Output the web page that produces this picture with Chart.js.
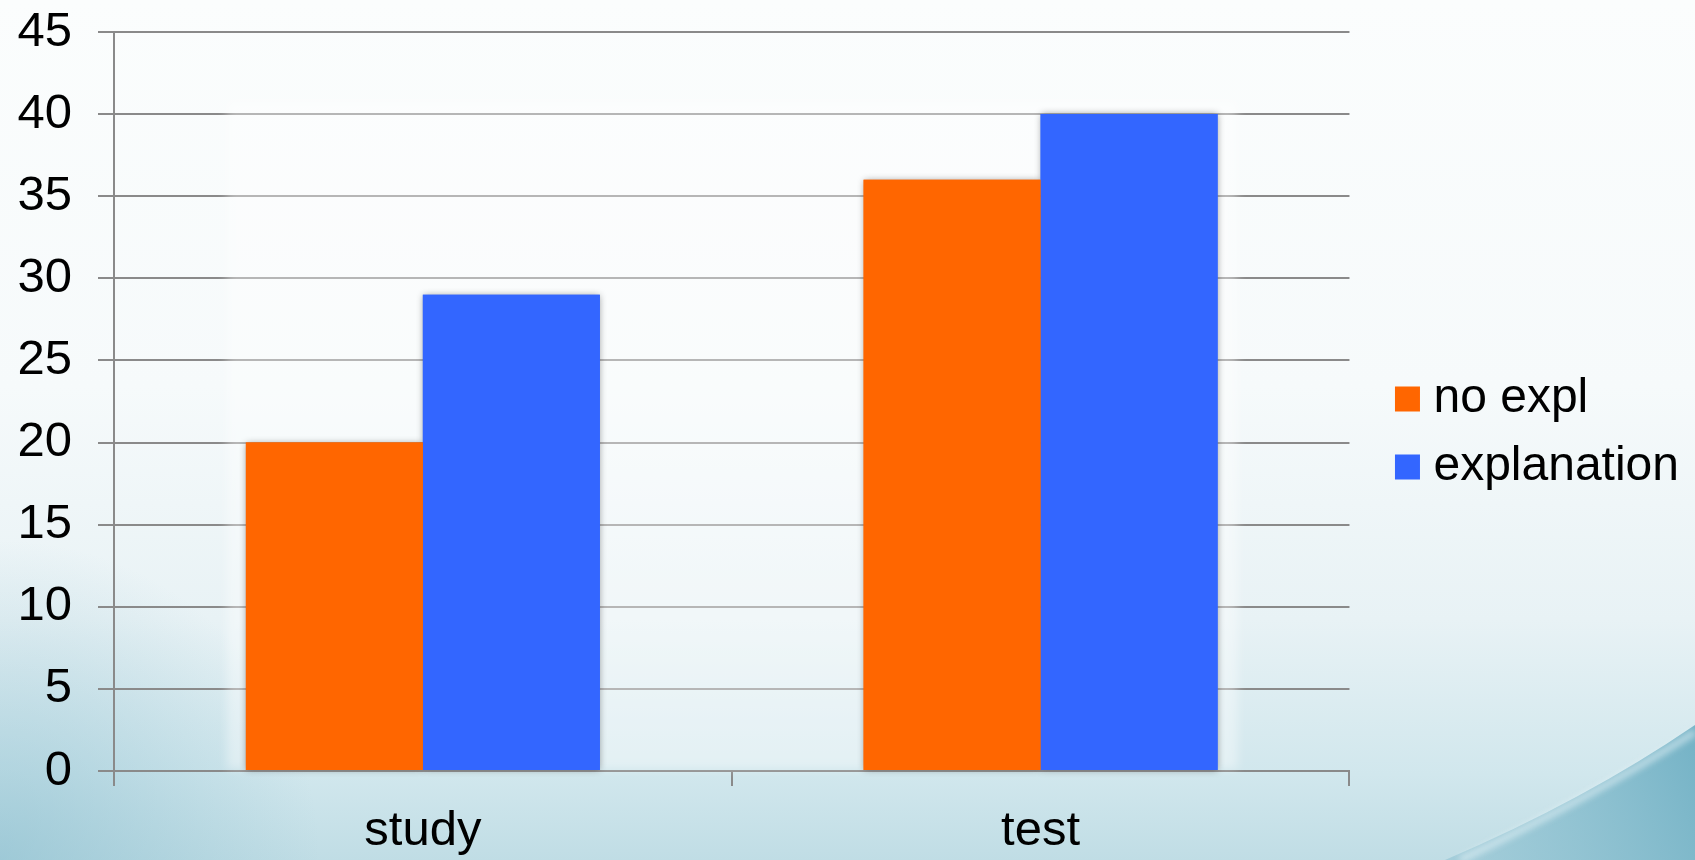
<!DOCTYPE html>
<html>
<head>
<meta charset="utf-8">
<title>study vs test</title>
<script src="https://cdn.jsdelivr.net/npm/chart.js@4/dist/chart.umd.min.js"></script>
<style>
  html, body { margin: 0; padding: 0; background: #fafcfd; overflow: hidden; }
  #wrap { width: 1695px; height: 860px; }
</style>
</head>
<body>
<div id="wrap"><canvas id="chart" width="1695" height="860"></canvas></div>
<script>
// Categories and series values
const categories = ['study', 'test'];
const seriesNames = ['no expl', 'explanation'];
const noExplValues = [20, 36];
const explanationValues = [29, 40];

// Value axis range and tick step
const yMin = 0;
const yMax = 45;
const yStep = 5;

const FONT = '"Liberation Sans", Arial, Helvetica, sans-serif';
const AXIS_GREY = '#8a8a8a';

// Slide-style backdrop: pale wash that deepens towards the bottom, with a teal swoosh in the corner
const backdrop = {
  id: 'backdrop',
  beforeDraw(chart) {
    const { ctx, width, height } = chart;
    ctx.save();
    const g = ctx.createLinearGradient(0, 0, 0, height);
    g.addColorStop(0, '#fbfdfd');
    g.addColorStop(0.45, '#f6fafb');
    g.addColorStop(0.72, '#e8f2f5');
    g.addColorStop(0.9, '#d1e7ed');
    g.addColorStop(1, '#c0dde5');
    ctx.fillStyle = g;
    ctx.fillRect(0, 0, width, height);

    // deeper tint in the lower-left corner
    const rg = ctx.createRadialGradient(0, height, 0, 0, height, 320);
    rg.addColorStop(0, 'rgba(130,185,203,0.55)');
    rg.addColorStop(1, 'rgba(130,185,203,0)');
    ctx.fillStyle = rg;
    ctx.fillRect(0, height - 320, 320, 320);

    // teal swoosh, lower right
    ctx.beginPath();
    ctx.moveTo(width - 250, height);
    ctx.quadraticCurveTo(width - 110, height - 60, width, height - 135);
    ctx.lineTo(width, height);
    ctx.closePath();
    const sg = ctx.createLinearGradient(width - 240, height, width, height - 120);
    sg.addColorStop(0, 'rgba(140,192,208,0.55)');
    sg.addColorStop(1, 'rgba(112,176,196,0.95)');
    ctx.fillStyle = sg;
    ctx.fill();

    // pale highlight along the swoosh edge
    ctx.beginPath();
    ctx.moveTo(width - 235, height);
    ctx.quadraticCurveTo(width - 105, height - 62, width, height - 128);
    ctx.strokeStyle = 'rgba(235,246,250,0.55)';
    ctx.lineWidth = 7;
    ctx.filter = 'blur(3px)';
    ctx.stroke();
    ctx.restore();
  }
};

// Soft light panel behind the bar groups and blurred drop shadows under the bars
const barEffects = {
  id: 'barEffects',
  beforeDatasetsDraw(chart) {
    const { ctx, chartArea } = chart;
    const bars = [];
    chart.data.datasets.forEach((ds, i) => {
      chart.getDatasetMeta(i).data.forEach(el => bars.push(el));
    });
    if (!bars.length) return;
    let left = Infinity, right = -Infinity, top = Infinity;
    bars.forEach(el => {
      const p = el.getProps(['x', 'y', 'width'], true);
      left = Math.min(left, p.x - p.width / 2);
      right = Math.max(right, p.x + p.width / 2);
      top = Math.min(top, p.y);
    });
    ctx.save();
    ctx.filter = 'blur(5px)';
    ctx.fillStyle = 'rgba(255,255,255,0.38)';
    ctx.fillRect(left - 19, top - 14, (right - left) + 39, chartArea.bottom - 2 - (top - 14));
    ctx.restore();

    ctx.save();
    ctx.shadowColor = 'rgba(0,0,0,0.38)';
    ctx.shadowBlur = 7;
    ctx.shadowOffsetX = 0;
    ctx.shadowOffsetY = 0;
    bars.forEach(el => el.draw(ctx));
    ctx.restore();
  }
};

const ctx = document.getElementById('chart').getContext('2d');
new Chart(ctx, {
  type: 'bar',
  data: {
    labels: categories,
    datasets: [
      {
        label: seriesNames[0],
        data: noExplValues,
        backgroundColor: '#ff6600',
        borderWidth: 0
      },
      {
        label: seriesNames[1],
        data: explanationValues,
        backgroundColor: '#3366ff',
        borderWidth: 0
      }
    ]
  },
  options: {
    responsive: false,
    devicePixelRatio: 1,
    animation: false,
    layout: { padding: { top: 6, right: 6, bottom: 0, left: 0 } },
    datasets: {
      bar: { categoryPercentage: 0.573, barPercentage: 1.0 }
    },
    scales: {
      x: {
        grid: {
          display: true,
          drawOnChartArea: false,
          drawTicks: true,
          tickLength: 15,
          offset: true,
          color: AXIS_GREY,
          lineWidth: 2
        },
        border: { display: true, color: AXIS_GREY, width: 2 },
        ticks: { color: '#000', padding: 16, font: { family: FONT, size: 49 } },
        afterFit(scale) { scale.height = 89; }
      },
      y: {
        min: yMin,
        max: yMax,
        grid: { color: AXIS_GREY, lineWidth: 2, tickLength: 16, drawTicks: true },
        border: { display: true, color: AXIS_GREY, width: 2 },
        ticks: { stepSize: yStep, color: '#000', padding: 26, font: { family: FONT, size: 49 } },
        afterFit(scale) {
          scale.width = 114;
          scale.paddingTop = 32;
          scale.paddingBottom = 0;
        }
      },
      // empty spacer between the plot and the legend
      gap: {
        type: 'linear',
        position: 'right',
        display: false,
        afterFit(scale) { scale.width = 36; }
      }
    },
    plugins: {
      legend: {
        position: 'right',
        align: 'center',
        labels: {
          usePointStyle: true,
          pointStyle: 'rect',
          boxWidth: 4,
          boxHeight: 25,
          padding: 20,
          color: '#000',
          font: { family: FONT, size: 48 }
        }
      },
      tooltip: { enabled: false }
    }
  },
  plugins: [backdrop, barEffects]
});
</script>
</body>
</html>
